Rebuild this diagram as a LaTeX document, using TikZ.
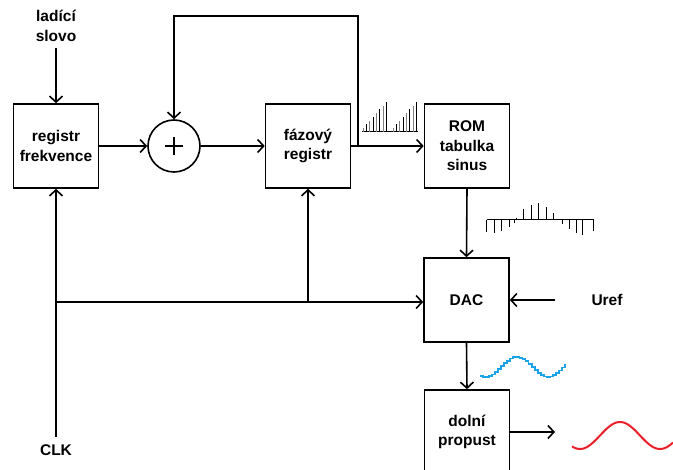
\documentclass[tikz,border=0pt]{standalone}
\usepackage{fontspec}
\setmainfont{Liberation Sans}
\usepackage{tikz}
\usetikzlibrary{arrows.meta}
\definecolor{stairblue}{HTML}{1AA3E8}
\definecolor{sinered}{HTML}{E8202A}

\begin{document}
\begin{tikzpicture}[x=1pt,y=-1pt,
  every node/.style={font=\bfseries\fontsize{15.5}{19.5}\selectfont},
  blok/.style={draw,line width=1.6pt,minimum width=85pt,minimum height=84pt,align=center,inner sep=2pt},
  lbl/.style={align=center,inner sep=0pt},
  sig/.style={line width=1.6pt,-{Straight Barb[length=6pt,width=13pt]}},
  bar/.style={line width=1pt}]
\useasboundingbox (0,0) rectangle (673,470);
\clip (0,0) rectangle (673,470);

% bloky
\node[blok] (freg) at (56,146) {registr\\frekvence};
\node[draw,circle,line width=1.6pt,minimum size=52pt,inner sep=0pt] (sum) at (174,146) {};
\node[blok] (fazreg) at (308,146) {fázový\\registr};
\node[blok] (rom) at (467,146) {ROM\\tabulka\\sinus};
\node[blok] (dac) at (466.5,300) {DAC};
\node[blok] (lpf) at (467,432) {dolní\\propust};
\draw[line width=1.4pt] ([xshift=-9pt]sum.center) -- ([xshift=9pt]sum.center)
  ([yshift=-9pt]sum.center) -- ([yshift=9pt]sum.center);

% popisky
\node[lbl] (ladici) at (56,26) {ladící\\slovo};
\node[lbl] (uref) at (607,300) {Uref};
\node[lbl] (clk) at (56,450) {CLK};

\coordinate (ladin) at (56,48);
\coordinate (clkin) at (56,437);
\coordinate (urefin) at (555,300);
\coordinate (j1) at (56,302);
\coordinate (j2) at (308,302);
\coordinate (fb) at (358,146);
\coordinate (fbtop) at (358,16);
\coordinate (lpfout) at (555,432);

% spoje
\draw[sig] (ladin) -- (freg.north);
\draw[sig] (freg.east) -- (sum.west);
\draw[sig] (sum.east) -- (fazreg.west);
\draw[sig] (fazreg.east) -- (rom.west);
\draw[sig] (fb) -- (fbtop) -| (sum.north);
\draw[sig] (rom.south) -- (dac.north);
\draw[sig] (urefin) -- (dac.east);
\draw[sig] (dac.south) -- (lpf.north);
\draw[sig] (lpf.east) -- (lpfout);
\draw[sig] (clkin) -- (freg.south);
\draw[sig] (j1) -- (j1 -| dac.west);
\draw[sig] (j2) -- (fazreg.south);

% pila (faze)
\draw[bar] (362,132) -- (418,132);
\foreach \r in {363.3,393.3}
  \foreach \k/\c in {0/gray,1/black,2/gray,3/black,4/gray,5/black,6/gray,7/black}
    \draw[bar,\c] (\r+3.33*\k,132) -- ++(0,{-3.75*\k-3.75});

% vzorky sinu
\draw[bar] (487,220) -- (594,220);
\foreach \x/\h in {486.7/11.7,494.3/12.7,501.7/11,509/7.3,514.3/3.3,516/-1.7,523.3/-11,531/-15,
    538.3/-16.7,546/-13.3,553.7/-6.7,562.3/4.3,569/9.3,576/13.3,582.7/15,593.3/11}
  \draw[bar] (\x,220) -- ++(0,\h);

% schody za DAC
\draw[stairblue,line width=1.8pt] plot[const plot,domain=480:565,samples=29]
  (\x,{367+10*cos(5.806*(\x-485))});

% vystup filtru
\draw[sinered,line width=2pt] plot[domain=572:673,samples=60]
  (\x,{435.5+13.5*cos(4.5*(\x-580))});
\end{tikzpicture}
\end{document}
